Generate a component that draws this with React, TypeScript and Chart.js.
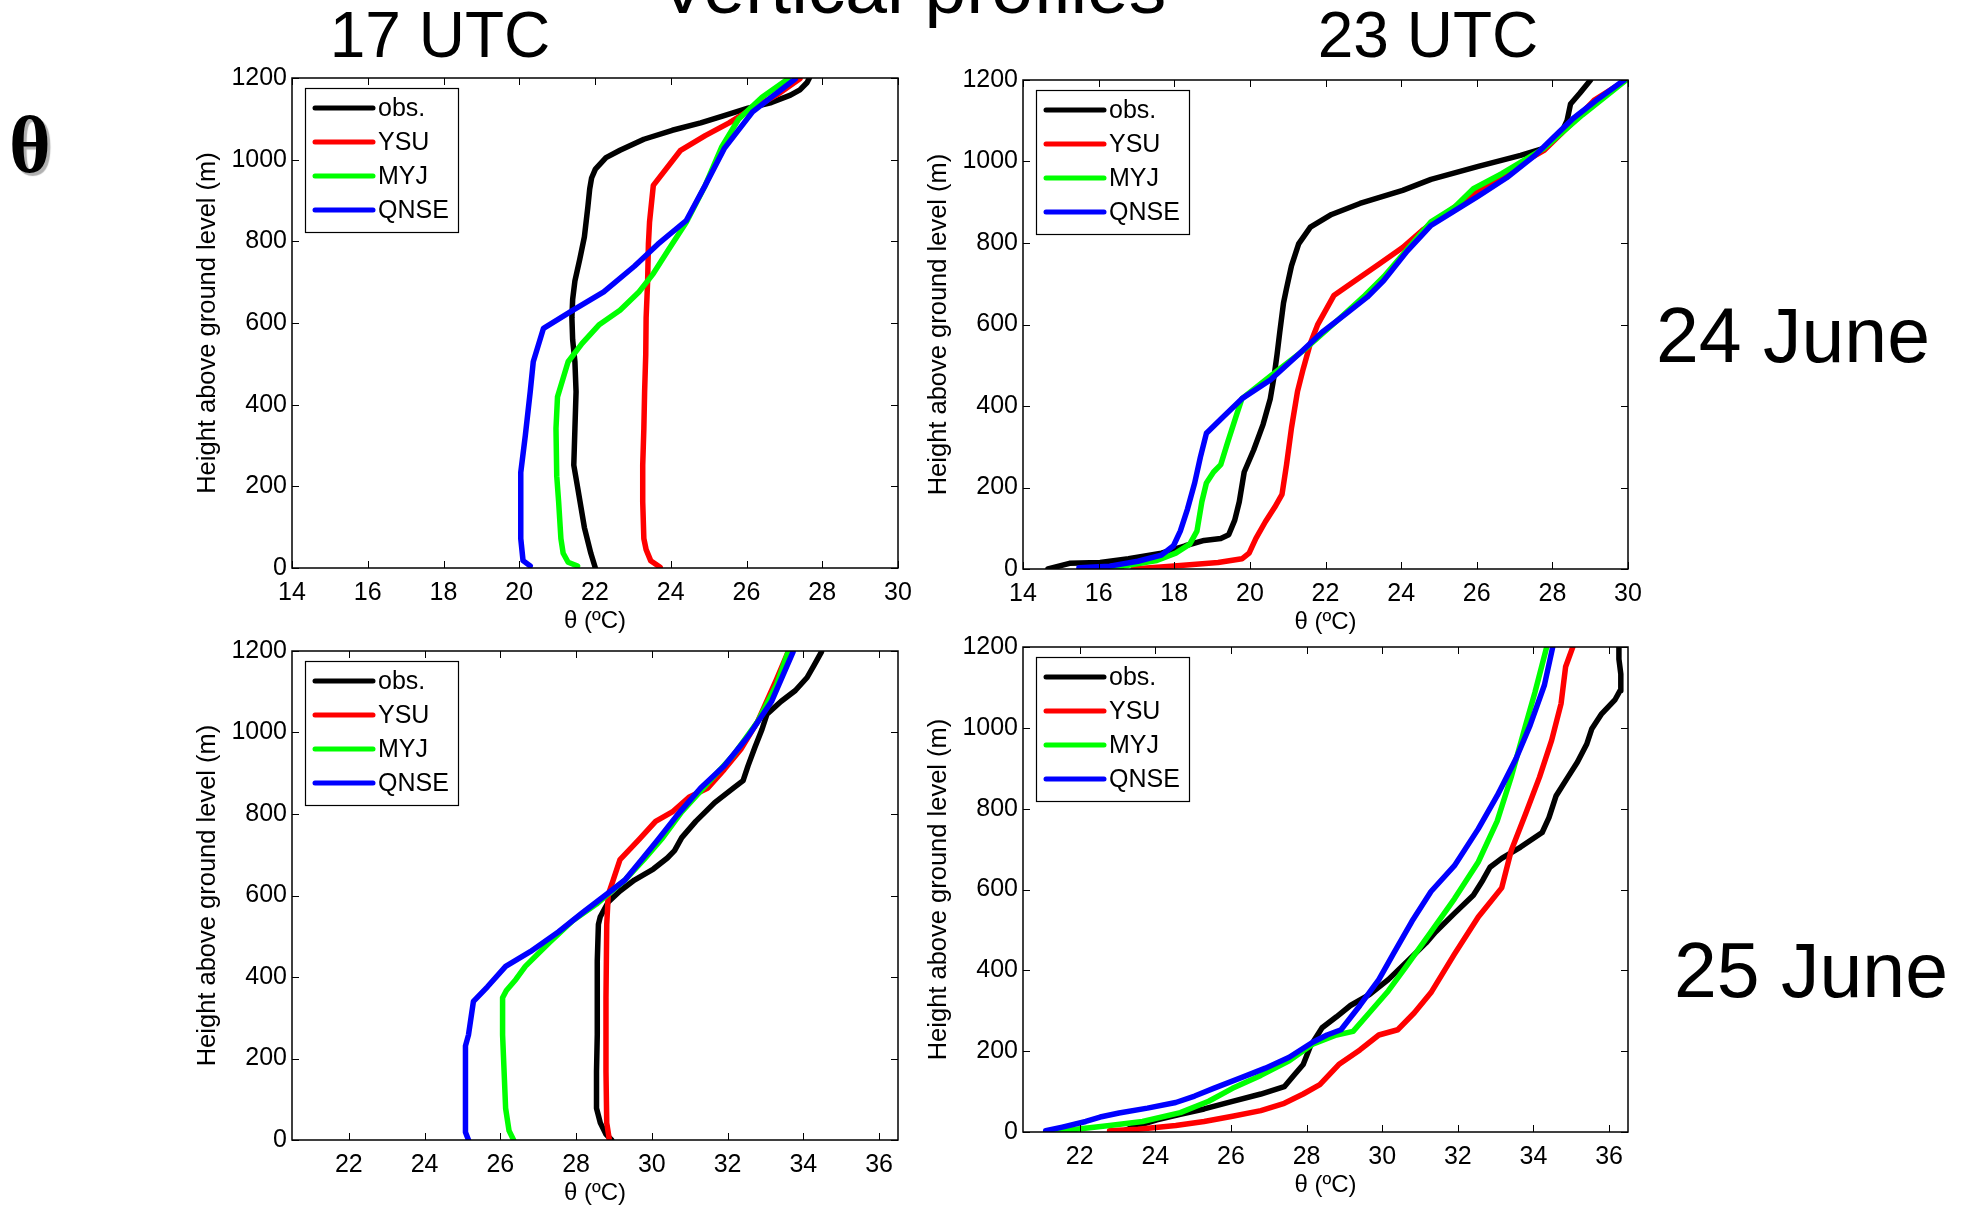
import React, { useEffect, useRef } from "react";
import { Chart, registerables } from "chart.js";

Chart.register(...registerables);

const SANS = '"Liberation Sans", Arial, Helvetica, sans-serif';
const SERIF = '"Liberation Serif", "Times New Roman", serif';

// ---------- data ----------
const seriesNames = ["obs.", "YSU", "MYJ", "QNSE"];
const seriesColors = ["#000000", "#ff0000", "#00ff00", "#0000ff"];

const heightTicks = [0, 200, 400, 600, 800, 1000, 1200];
const thetaTicks24 = [14, 16, 18, 20, 22, 24, 26, 28, 30];
const thetaTicks25 = [22, 24, 26, 28, 30, 32, 34, 36];

const xLabel = "θ (ºC)";
const yLabel = "Height above ground level (m)";

// [theta (ºC), height (m)]
// 24 June, 17 UTC
const jun24h17Obs = [[22.01,0],[21.89,36],[21.72,99],[21.54,198],[21.44,252],[21.47,342],[21.5,432],[21.47,505],[21.41,559],[21.39,613],[21.41,658],[21.47,703],[21.6,757],[21.72,811],[21.81,883],[21.86,928],[21.91,955],[22.01,977],[22.29,1005],[22.66,1023],[23.29,1050],[24.04,1072],[24.79,1090],[25.41,1108],[26.04,1126],[26.66,1140],[27.16,1158],[27.41,1171],[27.6,1189],[27.66,1200]];
const jun24h17Ysu = [[23.72,2],[23.47,18],[23.35,45],[23.29,72],[23.26,162],[23.26,252],[23.29,342],[23.31,432],[23.34,523],[23.35,613],[23.39,703],[23.41,793],[23.44,847],[23.54,937],[24.26,1023],[24.91,1059],[25.54,1090],[26.16,1126],[26.79,1158],[27.41,1198]];
const jun24h17Myj = [[21.54,5],[21.29,14],[21.16,36],[21.1,72],[21.04,162],[20.99,225],[20.97,342],[21.01,419],[21.29,505],[21.66,550],[22.1,595],[22.66,631],[23.16,676],[23.54,721],[23.91,775],[24.41,847],[24.91,937],[25.35,1032],[25.79,1099],[26.41,1153],[27.1,1198]];
const jun24h17Qnse = [[20.29,5],[20.1,18],[20.04,72],[20.04,234],[20.16,324],[20.29,432],[20.37,505],[20.64,587],[21.41,631],[22.23,676],[23.04,739],[23.66,793],[24.41,851],[24.91,937],[25.41,1027],[26.16,1117],[26.66,1153],[27.29,1198]];

// 24 June, 23 UTC
const jun24h23Obs = [[14.66,0],[15.23,14],[16.04,16],[16.79,25],[17.66,39],[18.29,57],[18.79,70],[19.23,75],[19.44,84],[19.6,120],[19.72,165],[19.85,238],[20.1,292],[20.35,355],[20.54,418],[20.64,473],[20.72,527],[20.79,581],[20.89,653],[20.97,689],[21.1,744],[21.29,798],[21.6,839],[22.16,870],[22.91,897],[24.04,929],[24.79,956],[26.04,988],[27.16,1015],[27.79,1033],[28.23,1069],[28.39,1101],[28.48,1141],[28.73,1168],[29.01,1200]];
const jun24h23Ysu = [[16.91,0],[17.91,7],[19.16,16],[19.79,25],[19.98,39],[20.16,75],[20.41,116],[20.66,152],[20.85,183],[20.97,256],[21.1,346],[21.26,436],[21.41,491],[21.6,554],[21.79,599],[22.22,671],[22.79,708],[23.41,748],[24.04,789],[24.6,834],[25.41,888],[26.04,929],[27.04,988],[27.79,1028],[28.54,1096],[29.1,1150],[29.95,1200]];
const jun24h23Myj = [[15.91,0],[16.66,7],[17.54,21],[18.04,39],[18.41,61],[18.6,93],[18.73,165],[18.85,211],[19.04,238],[19.23,256],[19.41,310],[19.66,382],[19.79,418],[20.54,473],[21.41,536],[22.29,608],[23.04,671],[23.54,717],[24.04,771],[24.79,852],[25.41,888],[25.91,933],[26.66,970],[27.79,1033],[28.79,1114],[29.95,1200]];
const jun24h23Qnse = [[15.48,3],[16.29,7],[17.04,19],[17.66,34],[17.98,57],[18.16,93],[18.35,147],[18.54,211],[18.69,274],[18.85,333],[19.29,373],[19.79,418],[20.54,464],[21.29,527],[21.91,581],[22.54,626],[23.1,667],[23.54,708],[24.16,780],[24.79,843],[25.41,879],[26.04,915],[26.79,960],[27.54,1015],[28.04,1060],[28.54,1105],[29.16,1150],[29.9,1200]];

// 25 June, 17 UTC
const jun25h17Obs = [[28.94,0],[28.79,14],[28.64,42],[28.54,78],[28.54,168],[28.56,258],[28.56,349],[28.56,439],[28.59,529],[28.64,548],[28.85,584],[29.16,611],[29.54,638],[30.04,665],[30.41,692],[30.6,710],[30.79,742],[31.16,782],[31.66,828],[32.16,864],[32.41,882],[32.54,918],[32.72,963],[32.91,1008],[33.04,1045],[33.41,1076],[33.79,1103],[34.1,1135],[34.29,1166],[34.48,1198]];
const jun25h17Ysu = [[28.88,0],[28.81,42],[28.79,168],[28.79,349],[28.81,529],[28.85,602],[28.98,638],[29.16,688],[29.66,737],[30.1,782],[30.54,805],[30.98,841],[31.48,864],[31.91,909],[32.35,959],[32.79,1026],[33.29,1130],[33.6,1198]];
const jun25h17Myj = [[26.35,0],[26.23,23],[26.14,78],[26.1,168],[26.06,258],[26.06,349],[26.16,367],[26.41,394],[26.66,426],[27.29,484],[27.91,538],[28.54,579],[28.85,604],[29.29,638],[29.79,688],[30.29,742],[30.79,805],[31.54,882],[32.16,945],[32.79,1026],[33.29,1117],[33.6,1198]];
const jun25h17Qnse = [[25.16,0],[25.08,19],[25.08,78],[25.08,231],[25.16,258],[25.29,340],[25.66,376],[26.14,426],[26.79,462],[27.54,511],[28.16,557],[28.85,606],[29.29,638],[29.73,688],[30.16,737],[30.66,796],[31.29,864],[31.91,918],[32.54,990],[33.16,1076],[33.73,1198]];

// 25 June, 23 UTC
const jun25h23Obs = [[23.1,0],[23.41,12],[24.04,30],[24.66,44],[25.29,57],[26.04,76],[26.79,94],[27.41,112],[27.66,140],[27.91,167],[28.1,212],[28.41,258],[28.79,285],[29.16,313],[29.66,340],[30.16,377],[30.66,422],[31.16,468],[31.41,495],[31.91,541],[32.41,586],[32.66,623],[32.85,655],[33.16,677],[33.66,705],[34.23,741],[34.41,778],[34.6,832],[34.91,878],[35.16,915],[35.41,960],[35.54,997],[35.79,1033],[36.16,1070],[36.29,1092],[36.31,1133],[36.26,1170],[36.26,1200]];
const jun25h23Ysu = [[22.79,3],[23.54,7],[24.54,16],[25.29,26],[26.04,39],[26.79,53],[27.41,71],[27.91,94],[28.35,117],[28.85,167],[29.41,203],[29.91,240],[30.41,253],[30.85,295],[31.29,345],[31.91,440],[32.54,532],[33.16,604],[33.41,696],[33.79,787],[34.16,878],[34.48,969],[34.73,1060],[34.85,1151],[35.04,1200]];
const jun25h23Myj = [[21.1,0],[21.91,7],[22.79,16],[23.66,26],[24.66,48],[25.41,76],[26.04,108],[26.79,140],[27.54,176],[28.16,217],[28.79,240],[29.23,249],[29.66,295],[30.16,349],[30.66,413],[31.29,495],[31.91,577],[32.54,668],[33.04,769],[33.41,878],[33.79,1006],[34.04,1088],[34.35,1200]];
const jun25h23Qnse = [[21.1,3],[21.54,12],[22.16,26],[22.54,37],[23.04,47],[23.79,59],[24.54,73],[25.04,89],[25.54,108],[26.29,135],[26.91,158],[27.54,185],[28.16,222],[28.54,240],[28.91,253],[29.41,313],[29.91,377],[30.29,440],[30.79,522],[31.29,595],[31.91,659],[32.54,750],[33.04,832],[33.54,924],[33.91,1006],[34.29,1106],[34.51,1200]];

// ---------- layout ----------
const Y_AXIS_W = 100;
const X_AXIS_H = 68;
const PAD_TOP = 30;
const PAD_RIGHT = 30;
const TICK_LEN = 7;
const LINE_W = 5.5;

const panels = [
  { key: "p1", plot: { l: 292, r: 898, t: 78, b: 568 }, xMin: 14, xMax: 30, xTicks: thetaTicks24, series: [jun24h17Obs, jun24h17Ysu, jun24h17Myj, jun24h17Qnse] },
  { key: "p2", plot: { l: 1023, r: 1628, t: 80, b: 569 }, xMin: 14, xMax: 30, xTicks: thetaTicks24, series: [jun24h23Obs, jun24h23Ysu, jun24h23Myj, jun24h23Qnse] },
  { key: "p3", plot: { l: 292, r: 898, t: 651, b: 1140 }, xMin: 20.5, xMax: 36.5, xTicks: thetaTicks25, series: [jun25h17Obs, jun25h17Ysu, jun25h17Myj, jun25h17Qnse] },
  { key: "p4", plot: { l: 1023, r: 1628, t: 647, b: 1132 }, xMin: 20.5, xMax: 36.5, xTicks: thetaTicks25, series: [jun25h23Obs, jun25h23Ysu, jun25h23Myj, jun25h23Qnse] },
];

const frameLegendPlugin = {
  id: "frameLegend",
  afterDraw(chart: any) {
    const { ctx, chartArea: a, scales } = chart;
    const xs = scales.x;
    const ys = scales.y;
    ctx.save();
    ctx.strokeStyle = "#000";
    ctx.lineWidth = 1.5;
    ctx.strokeRect(a.left, a.top, a.right - a.left, a.bottom - a.top);
    ctx.lineWidth = 1;
    ctx.beginPath();
    for (const t of xs.ticks) {
      const px = Math.round(xs.getPixelForValue(t.value)) + 0.5;
      ctx.moveTo(px, a.bottom);
      ctx.lineTo(px, a.bottom - TICK_LEN);
      ctx.moveTo(px, a.top);
      ctx.lineTo(px, a.top + TICK_LEN);
    }
    for (const t of ys.ticks) {
      const py = Math.round(ys.getPixelForValue(t.value)) + 0.5;
      ctx.moveTo(a.left, py);
      ctx.lineTo(a.left + TICK_LEN, py);
      ctx.moveTo(a.right, py);
      ctx.lineTo(a.right - TICK_LEN, py);
    }
    ctx.stroke();

    // legend box
    const bx = a.left + 13;
    const by = a.top + 10;
    const bw = 153;
    const bh = 144;
    ctx.fillStyle = "#fff";
    ctx.fillRect(bx, by, bw, bh);
    ctx.lineWidth = 1.2;
    ctx.strokeStyle = "#000";
    ctx.strokeRect(bx + 0.5, by + 0.5, bw, bh);
    ctx.font = `25px ${SANS}`;
    ctx.textBaseline = "middle";
    ctx.textAlign = "left";
    chart.data.datasets.forEach((ds: any, i: number) => {
      const ry = by + 20 + i * 34;
      ctx.beginPath();
      ctx.lineCap = "round";
      ctx.lineWidth = 5;
      ctx.strokeStyle = ds.borderColor;
      ctx.moveTo(bx + 10, ry);
      ctx.lineTo(bx + 68, ry);
      ctx.stroke();
      ctx.fillStyle = "#000";
      ctx.fillText(ds.label, bx + 73, ry + 1);
    });
    ctx.restore();
  },
};

function Panel({ cfg }: { cfg: any }) {
  const ref = useRef<HTMLCanvasElement | null>(null);
  const { plot } = cfg;
  const left = plot.l - Y_AXIS_W;
  const top = plot.t - PAD_TOP;
  const width = Y_AXIS_W + (plot.r - plot.l) + PAD_RIGHT;
  const height = PAD_TOP + (plot.b - plot.t) + X_AXIS_H;

  useEffect(() => {
    if (!ref.current) return;
    const datasets = cfg.series.map((s: number[][], i: number) => ({
      label: seriesNames[i],
      data: s.map(([x, y]) => ({ x, y })),
      borderColor: seriesColors[i],
      backgroundColor: seriesColors[i],
      borderWidth: LINE_W,
      borderCapStyle: "round",
      borderJoinStyle: "round",
      pointRadius: 0,
      showLine: true,
      tension: 0,
      fill: false,
      order: 4 - i,
    }));
    const chart = new Chart(ref.current, {
      type: "scatter",
      data: { datasets },
      plugins: [frameLegendPlugin],
      options: {
        responsive: false,
        animation: false,
        devicePixelRatio: 1,
        events: [],
        layout: { padding: { left: 0, top: PAD_TOP, right: PAD_RIGHT, bottom: 0 } },
        plugins: { legend: { display: false }, tooltip: { enabled: false }, title: { display: false } },
        scales: {
          x: {
            type: "linear",
            position: "bottom",
            min: cfg.xMin,
            max: cfg.xMax,
            afterBuildTicks: (axis: any) => {
              axis.ticks = cfg.xTicks.map((v: number) => ({ value: v }));
            },
            afterFit: (axis: any) => {
              axis.height = X_AXIS_H;
            },
            grid: { display: false, drawTicks: false },
            border: { display: false },
            ticks: {
              autoSkip: false,
              maxRotation: 0,
              padding: 10,
              color: "#000",
              font: { family: SANS, size: 25 },
              callback: (v: any) => String(v),
            },
            title: {
              display: true,
              text: xLabel,
              color: "#000",
              font: { family: SANS, size: 24 },
              padding: 0,
            },
          },
          y: {
            type: "linear",
            position: "left",
            min: 0,
            max: 1200,
            afterBuildTicks: (axis: any) => {
              axis.ticks = heightTicks.map((v) => ({ value: v }));
            },
            afterFit: (axis: any) => {
              axis.width = Y_AXIS_W;
            },
            grid: { display: false, drawTicks: false },
            border: { display: false },
            ticks: {
              autoSkip: false,
              padding: 5,
              color: "#000",
              font: { family: SANS, size: 25 },
              callback: (v: any) => String(v),
            },
            title: {
              display: true,
              text: yLabel,
              color: "#000",
              font: { family: SANS, size: 25.5 },
              padding: { top: 1, bottom: 0 },
            },
          },
        },
      } as any,
    } as any);
    return () => chart.destroy();
  }, [cfg]);

  return (
    <canvas
      ref={ref}
      width={width}
      height={height}
      style={{ position: "absolute", left, top, width, height, display: "block" }}
    />
  );
}

function Label({ text, cx, top, size, family = SANS, shadow, weight = "normal" }: any) {
  return (
    <div
      style={{
        position: "absolute",
        left: cx,
        top,
        transform: "translateX(-50%)",
        fontFamily: family,
        fontSize: size,
        fontWeight: weight,
        lineHeight: 1,
        whiteSpace: "nowrap",
        color: "#000",
        textShadow: shadow,
      }}
    >
      {text}
    </div>
  );
}

export default function App() {
  return (
    <div
      style={{
        position: "absolute",
        left: 0,
        top: 0,
        width: 1966,
        height: 1211,
        overflow: "hidden",
        background: "#fff",
      }}
    >
      <Label text="Vertical profiles" cx={912} top={-50} size={75} />
      <Label text="17 UTC" cx={440} top={3} size={64} />
      <Label text="23 UTC" cx={1428} top={3} size={64} />
      <Label text="θ" cx={30} top={105} size={80} family={SERIF} weight="bold" shadow="3px 3px 1px #b0b0b0" />
      <Label text="24 June" cx={1793} top={297} size={77} />
      <Label text="25 June" cx={1811} top={932} size={77} />
      {panels.map((p) => (
        <Panel key={p.key} cfg={p} />
      ))}
    </div>
  );
}
